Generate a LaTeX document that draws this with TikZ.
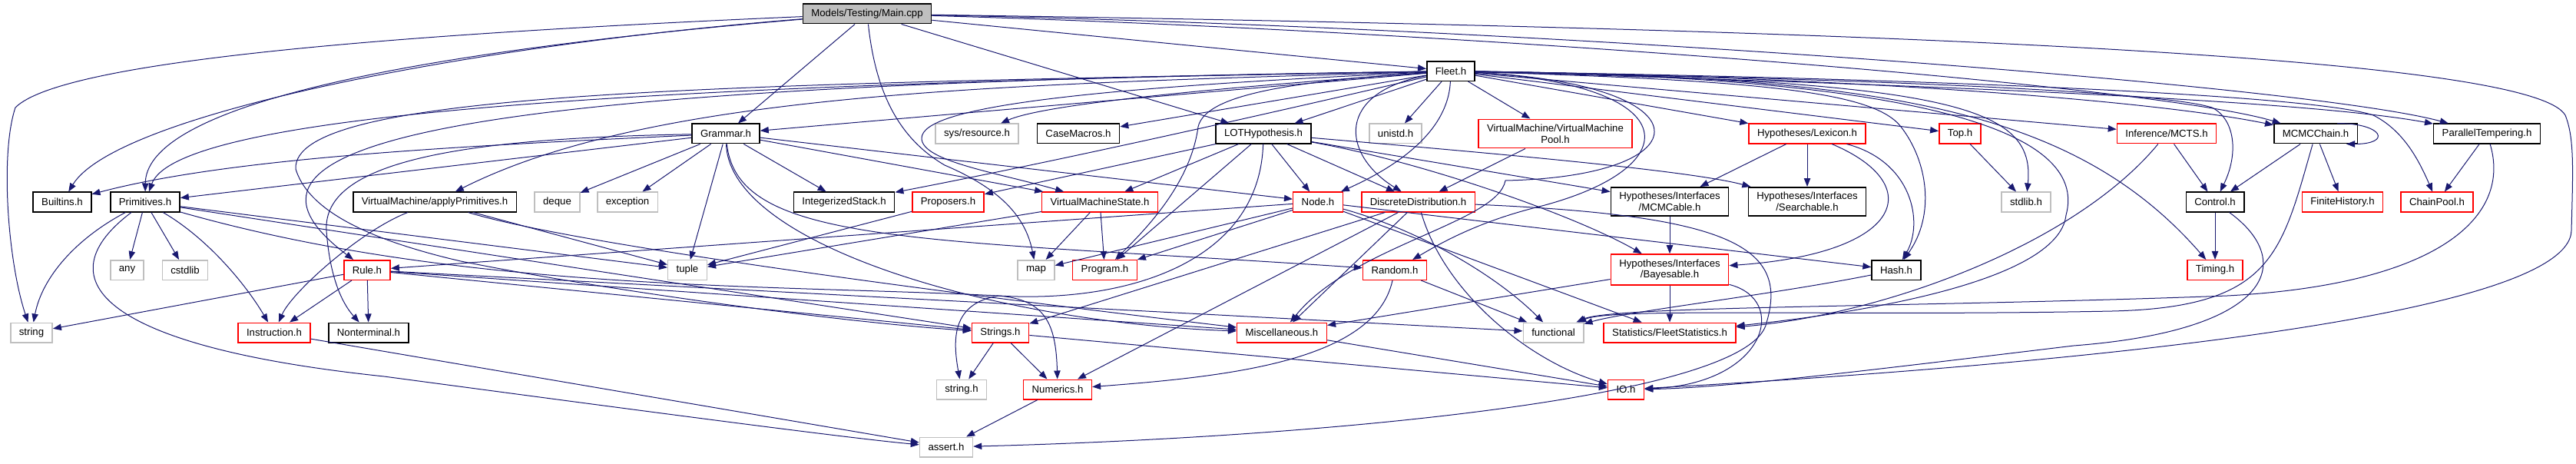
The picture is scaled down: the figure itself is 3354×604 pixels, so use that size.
\documentclass[tikz,border=0pt]{standalone}
\usepackage{fontspec}
\setmainfont{Liberation Sans}
\usepackage{tikz}
\usetikzlibrary{arrows.meta}
\definecolor{depnavy}{HTML}{191970}
\definecolor{depgray}{HTML}{BFBFBF}
\definecolor{depred}{HTML}{FF0000}
\newcommand{\depfont}{\fontsize{6.6pt}{7.3pt}\selectfont}

\begin{document}
\begin{tikzpicture}[x=0.5pt, y=-0.5pt,
  box/.style={draw, line width=0.75pt, inner xsep=5.5pt, inner ysep=3.3pt, minimum height=12.75pt, align=center, font=\depfont},
  hdr/.style={box, draw=black},
  trunc/.style={box, draw=depred},
  sys/.style={box, draw=depgray},
  rootbox/.style={box, draw=black, fill=depgray},
  dep/.style={draw=depnavy, line width=0.5pt, -{Triangle[length=5.5pt,width=4.2pt]}}]
  \useasboundingbox (0,0) rectangle (3354,604);
  % top
  \node[rootbox] (main) at (1129,18) {Models/Testing/Main.cpp};
  \node[hdr] (fleet) at (1889,92.6) {Fleet.h};
  % first level
  \node[hdr] (grammar) at (945,174) {Grammar.h};
  \node[sys] (sysres) at (1272,174) {sys/resource.h};
  \node[hdr] (casemacros) at (1404,174) {CaseMacros.h};
  \node[hdr] (lothyp) at (1645,174) {LOTHypothesis.h};
  \node[sys] (unistd) at (1817,174) {unistd.h};
  \node[trunc] (vmpool) at (2025,174) {VirtualMachine/VirtualMachine\\Pool.h};
  \node[trunc] (lexicon) at (2353,174) {Hypotheses/Lexicon.h};
  \node[trunc] (top) at (2552,174) {Top.h};
  \node[trunc] (mcts) at (2821,174) {Inference/MCTS.h};
  \node[hdr] (mcmcchain) at (3015,174) {MCMCChain.h};
  \node[hdr] (ptemp) at (3238,174) {ParallelTempering.h};
  % second level
  \node[hdr] (builtins) at (81,263) {Builtins.h};
  \node[hdr] (primitives) at (189,263) {Primitives.h};
  \node[hdr] (applyprim) at (566,263) {VirtualMachine/applyPrimitives.h};
  \node[sys] (deque) at (725.5,263) {deque};
  \node[sys] (exception) at (817,263) {exception};
  \node[hdr] (intstack) at (1099,263) {IntegerizedStack.h};
  \node[trunc] (proposers) at (1234.5,263) {Proposers.h};
  \node[trunc] (vmstate) at (1432,263) {VirtualMachineState.h};
  \node[trunc] (nodeh) at (1716,263) {Node.h};
  \node[trunc] (discdist) at (1846.5,263) {DiscreteDistribution.h};
  \node[hdr] (mcmcable) at (2174,262.5) {Hypotheses/Interfaces\\/MCMCable.h};
  \node[hdr] (searchable) at (2353,262.5) {Hypotheses/Interfaces\\/Searchable.h};
  \node[sys] (stdlib) at (2638,263) {stdlib.h};
  \node[hdr] (control) at (2884,263) {Control.h};
  \node[trunc] (finitehist) at (3050,263) {FiniteHistory.h};
  \node[trunc] (chainpool) at (3173,263) {ChainPool.h};
  % third level
  \node[sys] (any) at (165.5,351.5) {any};
  \node[sys] (cstdlib) at (241,351.5) {cstdlib};
  \node[trunc] (rule) at (478,351.5) {Rule.h};
  \node[sys] (tuple) at (895,351.5) {tuple};
  \node[sys] (map) at (1349,351.5) {map};
  \node[trunc] (program) at (1438.5,351.5) {Program.h};
  \node[trunc] (random) at (1816,351.5) {Random.h};
  \node[trunc] (bayesable) at (2174,351) {Hypotheses/Interfaces\\/Bayesable.h};
  \node[hdr] (hash) at (2469,351.5) {Hash.h};
  \node[trunc] (timing) at (2884,351.5) {Timing.h};
  % bottom levels
  \node[sys] (string) at (41,433) {string};
  \node[trunc] (instruction) at (357,433) {Instruction.h};
  \node[hdr] (nonterminal) at (480,433) {Nonterminal.h};
  \node[trunc] (strings) at (1302.5,433) {Strings.h};
  \node[trunc] (misc) at (1669,433) {Miscellaneous.h};
  \node[sys] (functional) at (2022.5,433) {functional};
  \node[trunc] (fleetstats) at (2174,433) {Statistics/FleetStatistics.h};
  \node[sys] (stringh) at (1252,507) {string.h};
  \node[trunc] (numerics) at (1377,507) {Numerics.h};
  \node[trunc] (io) at (2117,507) {IO.h};
  \node[sys] (assert) at (1232,582) {assert.h};
  % straight includes
  \foreach \a/\b in {main/grammar, main/lothyp, main/fleet,
      fleet/grammar, fleet/casemacros, fleet/lothyp, fleet/unistd, fleet/vmpool, fleet/lexicon, fleet/top, fleet/mcts,
      grammar/primitives, grammar/deque, grammar/exception, grammar/tuple, grammar/intstack, grammar/vmstate, grammar/nodeh,
      primitives/any, primitives/cstdlib, primitives/tuple, primitives/strings, applyprim/tuple,
      rule/string, rule/instruction, rule/nonterminal, rule/strings, rule/misc, rule/functional, instruction/assert,
      lothyp/proposers, lothyp/vmstate, lothyp/program, lothyp/nodeh, lothyp/discdist, lothyp/mcmcable,
      proposers/tuple, vmstate/tuple, vmstate/map, vmstate/program,
      nodeh/rule, nodeh/map, nodeh/program, nodeh/hash, nodeh/fleetstats,
      discdist/misc, discdist/numerics, discdist/strings, vmpool/discdist, random/functional,
      lexicon/mcmcable, lexicon/searchable, mcmcable/bayesable, bayesable/misc, bayesable/fleetstats,
      top/stdlib, mcts/control, mcmcchain/control, mcmcchain/finitehist, ptemp/chainpool, control/timing,
      misc/io, strings/stringh, strings/numerics, strings/io, numerics/assert}
    \draw[dep] (\a) -- (\b);
  % Main.cpp
  \draw[dep] (main) .. controls (500,45) and (80,80) .. (20,140) .. controls (0,200) and (10,340) .. (string);
  \draw[dep] (main) .. controls (600,60) and (150,150) .. (builtins);
  \draw[dep] (main) .. controls (450,75) and (190,150) .. (primitives);
  \draw[dep] (main) .. controls (1140,120) and (1170,180) .. (1230,215) .. controls (1300,245) and (1335,280) .. (map);
  \draw[dep] (main) .. controls (1900,40) and (2800,110) .. (mcmcchain);
  \draw[dep] (main) .. controls (2000,35) and (3000,110) .. (ptemp);
  \draw[dep] (main) .. controls (2600,40) and (3300,80) .. (3340,150) .. controls (3352,180) and (3350,220) .. (3348,300) .. controls (3345,420) and (2600,480) .. (io);
  % Fleet.h
  \draw[dep] (fleet) .. controls (800,110) and (230,150) .. (primitives);
  \draw[dep] (fleet) .. controls (1300,110) and (850,120) .. (applyprim);
  \draw[dep] (fleet) .. controls (1600,160) and (1350,215) .. (intstack);
  \draw[dep] (fleet) .. controls (1400,115) and (1200,140) .. (1200,180) .. controls (1200,210) and (1300,225) .. (vmstate);
  \draw[dep] (fleet) .. controls (1500,120) and (1350,140) .. (sysres);
  \draw[dep] (fleet) .. controls (2400,100) and (2800,130) .. (mcmcchain);
  \draw[dep] (fleet) .. controls (2500,110) and (3000,130) .. (ptemp);
  \draw[dep] (fleet) .. controls (2550,105) and (2650,140) .. (stdlib);
  \draw[dep] (fleet) .. controls (2300,100) and (2800,115) .. (2880,140) .. controls (2910,155) and (2915,200) .. (control);
  \draw[dep] (fleet) .. controls (2400,100) and (3000,120) .. (3090,150) .. controls (3130,170) and (3150,210) .. (chainpool);
  \draw[dep] (fleet) .. controls (2450,100) and (2700,140) .. (timing);
  \draw[dep] (fleet) .. controls (2300,105) and (2440,120) .. (2475,165) .. controls (2510,210) and (2520,280) .. (hash);
  \draw[dep] (fleet) .. controls (1885,180) and (1800,225) .. (nodeh);
  \draw[dep] (fleet) .. controls (1740,120) and (1745,200) .. (discdist);
  \draw[dep] (fleet) .. controls (1700,105) and (1570,120) .. (1560,165) .. controls (1550,240) and (1490,300) .. (program);
  \draw[dep] (fleet) .. controls (2200,110) and (2200,220) .. (2000,270) .. controls (1920,290) and (1870,320) .. (random);
  \draw[dep] (fleet) .. controls (600,110) and (250,180) .. (rule);
  \draw[dep] (fleet) .. controls (2230,110) and (2220,230) .. (1960,235) .. controls (1950,290) and (1760,320) .. (misc);
  \draw[dep] (fleet) .. controls (900,110) and (380,120) .. (385,220) .. controls (400,270) and (470,310) .. (600,340) .. controls (800,380) and (1100,420) .. (strings);
  \draw[dep] (fleet) .. controls (2500,100) and (2720,170) .. (2690,280) .. controls (2680,370) and (2400,410) .. (fleetstats);
  % Grammar.h, Primitives.h
  \draw[dep] (grammar) .. controls (600,190) and (300,205) .. (builtins);
  \draw[dep] (grammar) .. controls (600,180) and (420,210) .. (425,300) .. controls (430,370) and (450,400) .. (nonterminal);
  \draw[dep] (grammar) .. controls (960,320) and (1200,310) .. (random);
  \draw[dep] (grammar) .. controls (950,320) and (1300,420) .. (misc);
  \draw[dep] (primitives) .. controls (100,310) and (55,360) .. (string);
  \draw[dep] (primitives) .. controls (270,310) and (320,370) .. (instruction);
  \draw[dep] (primitives) .. controls (60,360) and (120,450) .. (500,490) .. controls (800,530) and (1100,570) .. (assert);
  \draw[dep] (primitives) .. controls (600,380) and (1000,370) .. (1300,385) .. controls (1360,390) and (1375,420) .. (numerics);
  \draw[dep] (applyprim) .. controls (470,300) and (380,380) .. (instruction);
  \draw[dep] (applyprim) .. controls (750,320) and (1300,390) .. (misc);
  % LOTHypothesis.h and below
  \draw[dep] (lothyp) .. controls (1950,200) and (2200,222) .. (searchable);
  \draw[dep] (lothyp) .. controls (1850,210) and (2050,280) .. (bayesable);
  \draw[dep] (lothyp) .. controls (1640,340) and (1470,395) .. (1300,385) .. controls (1240,395) and (1240,440) .. (stringh);
  \draw[dep] (nodeh) .. controls (1850,300) and (1950,360) .. (functional);
  \draw[dep] (discdist) .. controls (1880,380) and (1990,470) .. (io);
  \draw[dep] (discdist) .. controls (2250,280) and (2330,320) .. (2300,420) .. controls (2280,520) and (1700,570) .. (assert);
  \draw[dep] (random) .. controls (1790,470) and (1600,490) .. (numerics);
  \draw[dep] (lexicon) .. controls (2510,240) and (2480,330) .. (bayesable);
  \draw[dep] (lexicon) .. controls (2490,210) and (2505,290) .. (hash);
  \draw[dep] (bayesable) .. controls (2330,390) and (2300,500) .. (io);
  \draw[dep] (hash) .. controls (2300,385) and (2120,405) .. (functional);
  % right part
  \draw[dep] (mcts) .. controls (2700,320) and (2450,410) .. (fleetstats);
  \draw[dep] (mcmcchain) .. controls (2970,330) and (2960,400) .. (2750,405) .. controls (2400,412) and (2100,400) .. (functional);
  \draw[dep] (ptemp) .. controls (3270,280) and (3180,370) .. (2900,385) .. controls (2500,400) and (2100,398) .. (functional);
  \draw[dep] (control) .. controls (2990,340) and (2960,430) .. (2700,450) .. controls (2450,480) and (2250,505) .. (io);
  \draw[dep] ([xshift=14pt]mcmcchain.north) .. controls +(30pt,0pt) and +(30pt,0pt) .. ([xshift=20pt]mcmcchain.south);
\end{tikzpicture}
\end{document}
